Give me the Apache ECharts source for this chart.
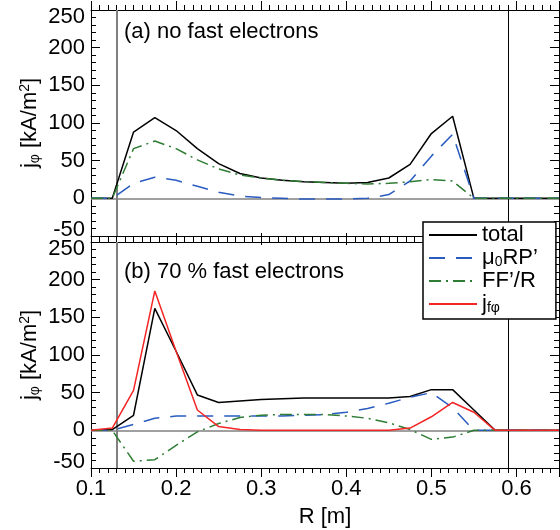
<!DOCTYPE html>
<html>
<head>
<meta charset="utf-8">
<script src="https://cdn.jsdelivr.net/npm/echarts@6/dist/echarts.min.js"></script>
<style>
  html, body { margin: 0; padding: 0; background: #fff; }
  #chart { width: 560px; height: 530px; }
</style>
</head>
<body>
<div id="chart"></div>
<script>
// Major radius grid [m]
const R = [0.100, 0.125, 0.150, 0.175, 0.200, 0.225, 0.250, 0.275, 0.300, 0.325, 0.350, 0.375,
           0.400, 0.425, 0.450, 0.475, 0.500, 0.525, 0.550, 0.575, 0.600, 0.625, 0.650];

// (a) no fast electrons  [kA/m^2]
const totalA = [0, 0, 88, 107, 90, 66, 46, 33, 27, 24, 22, 21, 20, 21, 27, 45, 86, 109, 0, 0, 0, 0, 0];
const presA  = [0, 0, 20, 28, 24, 16, 8, 3, 1, 0, -1, -1, -1, 0, 5, 23, 56, 85, 0, 0, 0, 0, 0];
const ffA    = [0, 0, 66, 76, 66, 51, 39, 31, 27, 24, 22, 21, 20, 19, 20, 22, 25, 23, 0, 0, 0, 0, 0];

// (b) 70 % fast electrons  [kA/m^2]
const totalB = [0, 1, 20, 162, 105, 47, 37, 39, 41, 42, 43, 43, 43, 43, 43, 45, 54, 54, 27, 0, 0, 0, 0];
const presB  = [0, 0, 8, 16, 19, 19, 19, 19, 19, 19, 20, 21, 24, 29, 36, 44, 50, 30, 0, 0, 0, 0, 0];
const ffB    = [0, 0, -41, -39, -20, -2, 9, 17, 20, 21, 21, 21, 19, 16, 10, 1, -12, -9, 0, 0, 0, 0, 0];
const fastB  = [0, 3, 53, 185, 105, 27, 5, 1, 0, 0, 0, 0, 0, 0, 0, 3, 18, 37, 24, 0, 0, 0, 0];

// Plasma boundary radii [m]
const boundaryR = [0.1274, 0.5885];

// Axis ranges and ticks
const xRange = [0.1, 0.65], xStep = 0.1;
const yRange = [-50, 250], yStep = 50;

const FONT = "'Liberation Sans', Arial, Helvetica, sans-serif";
const BLACK = '#000000', BLUE = '#2a5cc0', GREEN = '#2f7d34', RED = '#f42525', GREY = '#808080';

const chart = echarts.init(document.getElementById('chart'), null, { renderer: 'canvas' });

const grids = [
  { left: 91, right: 1, top: 10, height: 226 },
  { left: 91, right: 1, top: 242, height: 226 }
];

// sign flips the tick direction so every tick points into the frame
function tick(sign) {
  return { show: true, inside: true, length: 9 * sign, lineStyle: { color: BLACK, width: 1 } };
}
function minorTick(n, sign) {
  return { show: true, splitNumber: n, length: 5 * sign, lineStyle: { color: BLACK, width: 1 } };
}
function axisLine() {
  return { show: true, onZero: false, lineStyle: { color: BLACK, width: 1 } };
}

function xAxis(grid, pos, labels) {
  return {
    type: 'value', gridIndex: grid, position: pos,
    min: xRange[0], max: xRange[1], interval: xStep,
    axisLine: axisLine(), axisTick: tick(-1), minorTick: minorTick(10, -1),
    splitLine: { show: false }, minorSplitLine: { show: false },
    axisLabel: {
      show: labels, showMaxLabel: false, margin: 10,
      fontSize: 22, color: BLACK, fontFamily: FONT,
      formatter: v => v.toFixed(1)
    },
    name: labels ? 'R [m]' : '', nameLocation: 'middle', nameGap: 38, nameMoveOverlap: false,
    nameTextStyle: { fontSize: 22, color: BLACK, fontFamily: FONT }
  };
}

const yName = '{m|j}{s|φ}{m| [kA/m}{p|2}{m|]}';
function yAxis(grid, pos, labels) {
  return {
    type: 'value', gridIndex: grid, position: pos,
    min: yRange[0], max: yRange[1], interval: yStep,
    axisLine: axisLine(), axisTick: tick(1), minorTick: minorTick(5, 1),
    splitLine: { show: false }, minorSplitLine: { show: false },
    axisLabel: {
      show: labels, margin: 6, fontSize: 22, color: BLACK, fontFamily: FONT,
      formatter: v => v === yRange[1] ? '{hi|' + v + '}' : (v === yRange[0] ? '{lo|' + v + '}' : String(v)),
      rich: {
        hi: { fontSize: 22, color: BLACK, fontFamily: FONT, padding: [14, 0, 0, 0] },
        lo: { fontSize: 22, color: BLACK, fontFamily: FONT, padding: [0, 0, 12, 0] }
      }
    },
    name: labels ? yName : '', nameLocation: 'middle', nameRotate: 90, nameGap: 49,
    nameMoveOverlap: false,
    nameTextStyle: {
      fontSize: 22, color: BLACK, fontFamily: FONT,
      rich: {
        m: { fontSize: 22, lineHeight: 24, color: BLACK, fontFamily: FONT },
        s: { fontSize: 14, lineHeight: 14, verticalAlign: 'bottom', color: BLACK, fontFamily: FONT },
        p: { fontSize: 14, lineHeight: 14, verticalAlign: 'top', color: BLACK, fontFamily: FONT }
      }
    }
  };
}

function curve(name, values, grid, color, dash, z) {
  return {
    type: 'line', name,
    xAxisIndex: grid * 2, yAxisIndex: grid * 2,
    data: R.map((r, i) => [r, values[i]]),
    symbol: 'none', silent: true, animation: false, z,
    lineStyle: { color, width: 1.5, type: dash },
    itemStyle: { color }
  };
}

// Zero line and boundary markers for each panel
function guides(grid) {
  return {
    type: 'line', xAxisIndex: grid * 2, yAxisIndex: grid * 2,
    data: [], silent: true, animation: false, z: 1,
    markLine: {
      silent: true, symbol: ['none', 'none'], animation: false, z: 1,
      label: { show: false },
      emphasis: { disabled: true },
      data: [
        { yAxis: 0, lineStyle: { color: GREY, width: 1.5, type: 'solid' } },
        { xAxis: boundaryR[0], lineStyle: { color: GREY, width: 2, type: 'solid' } },
        { xAxis: boundaryR[1], lineStyle: { color: BLACK, width: 1, type: 'solid' } }
      ]
    }
  };
}

const DASH = [16, 11];
const DASHDOT = [12, 5, 2, 5];

const legendLabels = {
  'total': '{m|total}',
  'μ0RP’': '{m|μ}{s|0}{m|RP’}',
  'FF’/R': '{m|FF’/R}',
  'jfφ': '{m|j}{s|fφ}'
};

chart.setOption({
  animation: false,
  backgroundColor: '#ffffff',
  grid: grids,
  xAxis: [xAxis(0, 'bottom', false), xAxis(0, 'top', false), xAxis(1, 'bottom', true), xAxis(1, 'top', false)],
  yAxis: [yAxis(0, 'left', true), yAxis(0, 'right', false), yAxis(1, 'left', true), yAxis(1, 'right', false)],
  legend: {
    data: Object.keys(legendLabels),
    orient: 'vertical', left: 423, top: 222,
    itemWidth: 48, itemHeight: 14, itemGap: 1,
    padding: [2, 18, 4, 5],
    backgroundColor: '#ffffff', borderColor: BLACK, borderWidth: 1.5, borderRadius: 0,
    selectedMode: false, z: 20,
    itemStyle: { opacity: 0 },
    formatter: name => legendLabels[name],
    textStyle: {
      fontSize: 22, color: BLACK, fontFamily: FONT,
      rich: {
        m: { fontSize: 22, lineHeight: 22, color: BLACK, fontFamily: FONT },
        s: { fontSize: 14, lineHeight: 14, verticalAlign: 'bottom', color: BLACK, fontFamily: FONT }
      }
    }
  },
  graphic: [
    { type: 'text', left: 124, top: 21, z: 30,
      style: { text: '(a) no fast electrons', fontSize: 22, fontFamily: FONT, fill: BLACK } },
    { type: 'text', left: 124, top: 261, z: 30,
      style: { text: '(b) 70 % fast electrons', fontSize: 22, fontFamily: FONT, fill: BLACK } }
  ],
  series: [
    guides(0),
    curve('total', totalA, 0, BLACK, 'solid', 3),
    curve('μ0RP’', presA, 0, BLUE, DASH, 4),
    curve('FF’/R', ffA, 0, GREEN, DASHDOT, 5),
    guides(1),
    curve('total', totalB, 1, BLACK, 'solid', 3),
    curve('μ0RP’', presB, 1, BLUE, DASH, 4),
    curve('FF’/R', ffB, 1, GREEN, DASHDOT, 5),
    curve('jfφ', fastB, 1, RED, 'solid', 6)
  ]
});
</script>
</body>
</html>
